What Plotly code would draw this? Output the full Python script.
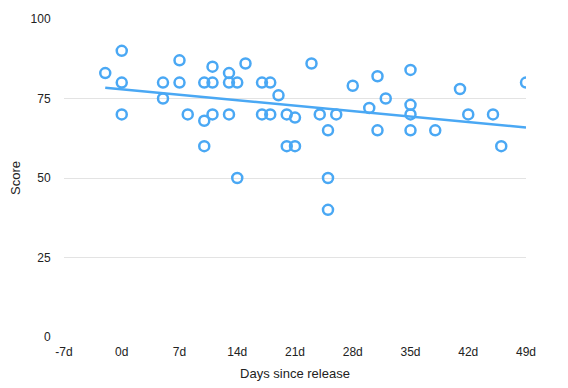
import plotly.graph_objects as go

days = [-2, 0, 0, 0, 5, 5, 7, 7, 8, 10, 10, 10, 11, 11, 11, 13, 13, 13, 14, 14, 15,
        17, 17, 18, 18, 19, 20, 20, 21, 21, 23, 24, 25, 25, 25, 26, 28, 30, 31, 31, 32,
        35, 35, 35, 35, 38, 41, 42, 45, 46, 49]
scores = [83, 90, 80, 70, 80, 75, 87, 80, 70, 80, 68, 60, 85, 80, 70, 83, 80, 70, 80, 50, 86,
          80, 70, 80, 70, 76, 70, 60, 69, 60, 86, 70, 65, 50, 40, 70, 79, 72, 82, 65, 75,
          84, 73, 70, 65, 65, 78, 70, 70, 60, 80]

trend_days = [-2, 49]
trend_scores = [78.4, 65.9]

x_tick_vals = [-7, 0, 7, 14, 21, 28, 35, 42, 49]
x_tick_text = ["-7d", "0d", "7d", "14d", "21d", "28d", "35d", "42d", "49d"]
y_tick_vals = [0, 25, 50, 75, 100]

color = "#4aa8f4"

fig = go.Figure()
fig.add_trace(go.Scatter(x=trend_days, y=trend_scores, mode="lines",
                         line=dict(color=color, width=2.5), hoverinfo="skip",
                         showlegend=False))
fig.add_trace(go.Scatter(x=days, y=scores, mode="markers",
                         marker=dict(symbol="circle-open", size=10, color=color,
                                     line=dict(width=2.5, color=color)),
                         showlegend=False))

fig.update_layout(
    width=568, height=388,
    margin=dict(l=56, r=50, t=11, b=59),
    paper_bgcolor="white", plot_bgcolor="white",
    font=dict(family="Liberation Sans, Arial, sans-serif", size=12, color="#222"),
    xaxis=dict(range=[-7, 49], tickvals=x_tick_vals, ticktext=x_tick_text,
               showgrid=False, zeroline=False, showline=False, automargin=False,
               ticks="outside", ticklen=4, tickcolor="rgba(0,0,0,0)",
               title=dict(text="Days since release", font=dict(size=13), standoff=10),
               tickfont=dict(size=12)),
    yaxis=dict(range=[0, 100], tickvals=y_tick_vals, showgrid=True,
               gridcolor="#e3e3e3", gridwidth=1, zeroline=False, showline=False,
               automargin=False, ticks="outside", ticklen=10,
               tickcolor="rgba(0,0,0,0)",
               title=dict(text="Score", font=dict(size=13), standoff=11),
               tickfont=dict(size=12)),
)

fig.write_html("out.html")
